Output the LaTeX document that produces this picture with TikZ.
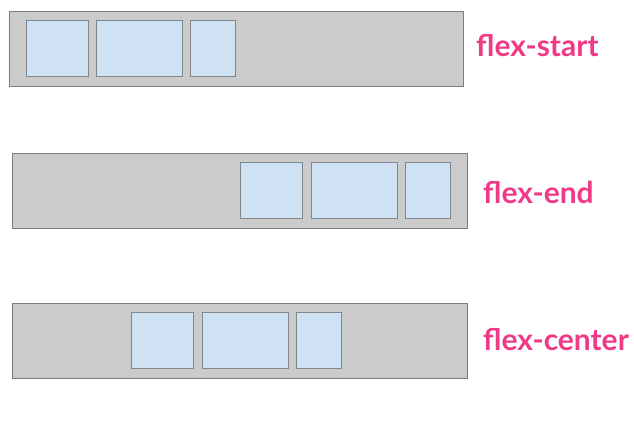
\documentclass[tikz,border=0pt]{standalone}
\usepackage{fontspec}
\setmainfont{Lato}
\usepackage{tikz}
\definecolor{rowgray}{RGB}{203,203,203}
\definecolor{rowedge}{RGB}{125,125,125}
\definecolor{itemblue}{RGB}{207,226,243}
\definecolor{itemedge}{RGB}{128,134,140}
\definecolor{labelpink}{RGB}{240,58,136}
\tikzset{
  flexrow/.style={draw=rowedge,fill=rowgray,line width=.8pt,inner sep=0pt,anchor=north west},
  flexitem/.style={draw=itemedge,fill=itemblue,line width=.8pt,inner sep=0pt,anchor=north west,minimum height=56pt},
  flexlabel/.style={anchor=west,text=labelpink,inner sep=0pt,font=\bfseries\fontsize{30}{34}\selectfont}
}
\begin{document}
\begin{tikzpicture}[x=1pt,y=-1pt]
\path[use as bounding box] (0,0) rectangle (634,425);
% flex-start
\node[flexrow,minimum width=454pt,minimum height=75pt] (rowa) at (9,11) {};
\node[flexitem,minimum width=62pt] (a1) at (26,20) {};
\node[flexitem,minimum width=86pt] (a2) at (96,20) {};
\node[flexitem,minimum width=45pt] (a3) at (190,20) {};
\node[flexlabel] (laba) at (476,46) {flex-start};
% flex-end
\node[flexrow,minimum width=455pt,minimum height=75pt] (rowb) at (12,153) {};
\node[flexitem,minimum width=62pt] (b1) at (240,162) {};
\node[flexitem,minimum width=86pt] (b2) at (311,162) {};
\node[flexitem,minimum width=45pt] (b3) at (405,162) {};
\node[flexlabel] (labb) at (483,192) {flex-end};
% flex-center
\node[flexrow,minimum width=455pt,minimum height=75pt] (rowc) at (12,303) {};
\node[flexitem,minimum width=62pt] (c1) at (131,312) {};
\node[flexitem,minimum width=86pt] (c2) at (202,312) {};
\node[flexitem,minimum width=45pt] (c3) at (296,312) {};
\node[flexlabel] (labc) at (483,340) {flex-center};
\end{tikzpicture}
\end{document}
